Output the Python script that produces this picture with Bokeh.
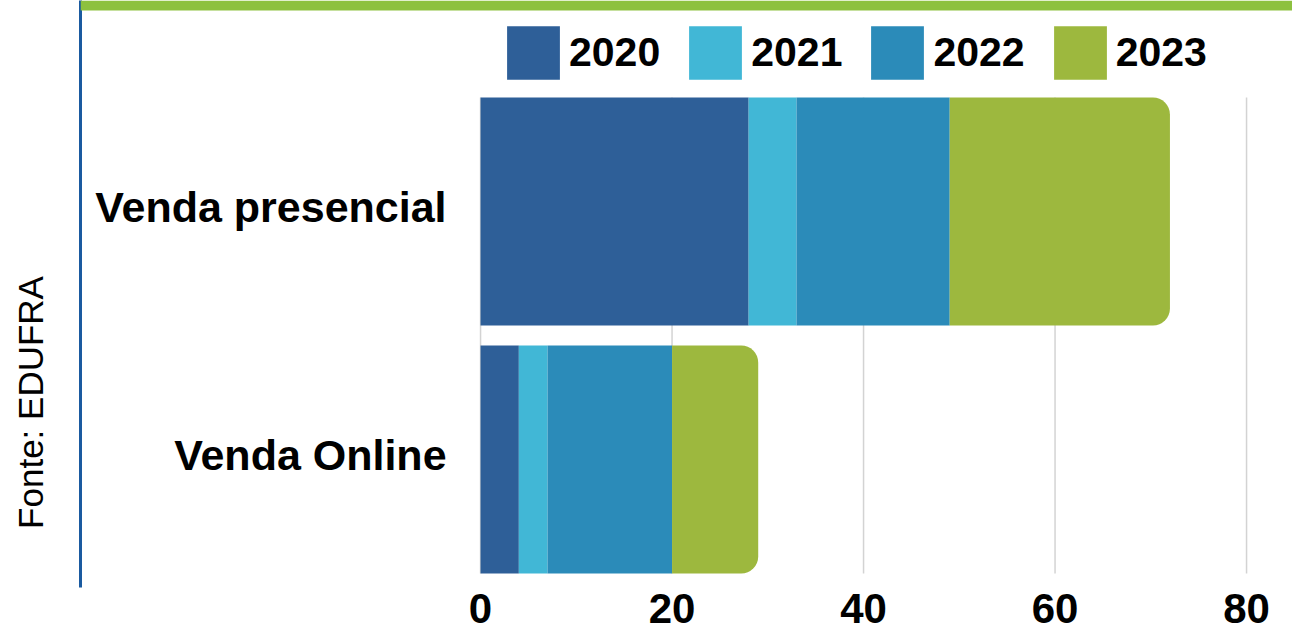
from bokeh.plotting import figure
from bokeh.models import (ColumnDataSource, Range1d, FixedTicker, Legend, LegendItem,
                          BoxAnnotation)
from bokeh.transform import stack
from bokeh.core.properties import value
from bokeh.embed import file_html
from bokeh.resources import INLINE

# ---- data ----
categories = ["Venda Online", "Venda presencial"]
years = ["2020", "2021", "2022", "2023"]
v2020 = [4, 28]
v2021 = [3, 5]
v2022 = [13, 16]
v2023 = [9, 23]
x_ticks = [0, 20, 40, 60, 80]
source_note = "Fonte: EDUFRA"

colors = ["#2e5f98", "#41b7d6", "#2b8bb9", "#9db83e"]
FONT = "Liberation Sans"
bar_h = 0.92

ypos = list(range(len(categories)))
src = ColumnDataSource(dict(y=ypos, cat=categories, **{"2020": v2020, "2021": v2021,
                                                       "2022": v2022, "2023": v2023}))

p = figure(width=1292, height=633,
           x_range=Range1d(-41.78, 84.8), y_range=Range1d(-0.5161, 1.8508),
           output_backend="svg", toolbar_location=None,
           min_border_left=80, min_border_right=0, min_border_top=0, min_border_bottom=46)
p.xgrid.visible = False
p.ygrid.visible = False
p.outline_line_color = None
p.background_fill_color = "white"
p.border_fill_color = "white"

# green band on top
p.add_layout(BoxAnnotation(bottom=1.8105, fill_color="#8dc13f", fill_alpha=1.0,
                           line_alpha=0, level="overlay"))

# vertical grid lines spanning the bars
y_lo = min(ypos) - bar_h / 2
y_hi = max(ypos) + bar_h / 2
p.segment(x0=x_ticks, x1=x_ticks, y0=[y_lo] * len(x_ticks), y1=[y_hi] * len(x_ticks),
          line_color="#d3d3d3", line_width=1.5)

renderers = []
for i, yr in enumerate(years):
    kw = {}
    if i == len(years) - 1:
        kw["border_radius"] = (0, 17, 17, 0)
    r = p.hbar(y="y", height=bar_h, left=stack(*years[:i]) if i else 0,
               right=stack(*years[:i + 1]), source=src,
               fill_color=colors[i], line_color=None, **kw)
    renderers.append(r)

# category labels
p.text(x=0, y="y", text="cat", source=src, x_offset=-34, y_offset=-5,
       text_align="right", text_baseline="middle",
       text_font=value(FONT), text_font_style="bold", text_font_size="43px",
       text_color="black")

legend = Legend(items=[LegendItem(label=yr, renderers=[r]) for yr, r in zip(years, renderers)],
                orientation="horizontal", location=(420, 501),
                glyph_width=66, glyph_height=67, label_standoff=3, spacing=22,
                padding=0, margin=0, border_line_alpha=0, background_fill_alpha=0,
                label_text_font=FONT, label_text_font_style="bold",
                label_text_font_size="41px", label_text_color="black")
p.add_layout(legend, "center")

# x axis
xa = p.xaxis[0]
xa.ticker = FixedTicker(ticks=x_ticks)
xa.axis_line_color = None
xa.major_tick_line_color = None
xa.minor_tick_line_color = None
xa.major_label_standoff = 0
xa.major_label_text_font = FONT
xa.major_label_text_font_style = "bold"
xa.major_label_text_font_size = "42px"
xa.major_label_text_color = "black"

# left axis: blue rule with the source note
ya = p.yaxis[0]
note_y = 0.23
ya.ticker = FixedTicker(ticks=[note_y])
ya.major_label_overrides = {note_y: source_note}
ya.major_label_orientation = "vertical"
ya.axis_line_color = "#1a5aa0"
ya.axis_line_width = 3
ya.major_tick_line_color = None
ya.minor_tick_line_color = None
ya.major_label_standoff = 24
ya.major_label_text_font = FONT
ya.major_label_text_font_style = "normal"
ya.major_label_text_font_size = "35px"
ya.major_label_text_color = "black"

open("out.html", "w").write(file_html(p, INLINE))
